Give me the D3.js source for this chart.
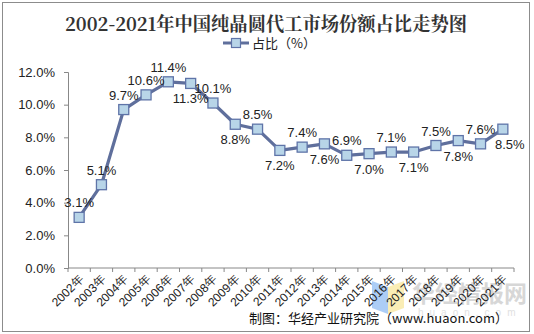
<!DOCTYPE html>
<html><head><meta charset="utf-8">
<script src="https://cdn.jsdelivr.net/npm/d3@7"></script>
<style>html,body{margin:0;padding:0;background:#fff;}svg{display:block;}</style>
</head><body>
<svg id="chart" width="534" height="334"></svg>
<script>
const years = ["2002年","2003年","2004年","2005年","2006年","2007年","2008年","2009年","2010年","2011年","2012年","2013年","2014年","2015年","2016年","2017年","2018年","2019年","2020年","2021年"];
const shares = [3.1,5.1,9.7,10.6,11.4,11.3,10.1,8.8,8.5,7.2,7.4,7.6,6.9,7.0,7.1,7.1,7.5,7.8,7.6,8.5];
const labelSide = ["up","up","up","up","up","down","up","down","up","down","up","down","up","down","up","down","up","down","up","down"];
const yTicks = [0,2,4,6,8,10,12];
const title = "2002-2021年中国纯晶圆代工市场份额占比走势图";
const seriesName = "占比（%）";
const credit = "制图：华经产业研究院（www.huaon.com）";

const svg = d3.select("#chart");
svg.append("rect").attr("x",2.5).attr("y",2.5).attr("width",527).attr("height",329)
  .attr("fill","#fff").attr("stroke","#8c8c8c").attr("stroke-width",1);

// watermark
const wm = svg.append("g").attr("opacity",0.55);
wm.append("polygon").attr("points","372,281 388,287 388,314 372,308").attr("fill","#6aa6f0");
wm.append("polygon").attr("points","388,287 404,281 404,308 388,314").attr("fill","#f7df7a");
wm.append("text").attr("x",412).attr("y",302).attr("font-family","Noto Sans CJK SC").attr("font-weight","bold")
  .attr("font-size",23).attr("fill","#b8b8b8").text("华经情报网");
wm.append("text").attr("x",418).attr("y",316).attr("font-family","Liberation Sans").attr("font-size",10)
  .attr("fill","#c8c8c8").attr("letter-spacing","6").text("huaon.com");

const x = d3.scaleBand().domain(years).range([68,514]);
const y = d3.scaleLinear().domain([0,12]).range([268,72]);

svg.append("text").attr("x",65).attr("y",31).attr("textLength",402).attr("lengthAdjust","spacingAndGlyphs")
  .attr("font-family","Noto Serif CJK SC, DejaVu Serif, Noto Sans CJK SC").attr("font-weight","bold")
  .attr("font-size",19).attr("fill","#333").text(title);

// legend
const lg = svg.append("g");
lg.append("line").attr("x1",223).attr("x2",249).attr("y1",43).attr("y2",43).attr("stroke","#5f6f9c").attr("stroke-width",3);
lg.append("rect").attr("x",231.5).attr("y",38.5).attr("width",9).attr("height",9).attr("fill","#b8d5e8").attr("stroke","#5f74a8").attr("stroke-width",1.2);
lg.append("text").attr("x",252).attr("y",48).attr("font-family","Noto Sans CJK SC").attr("font-size",13).attr("fill","#222").text(seriesName);

// y axis
const ya = svg.append("g").attr("transform","translate(68,0)")
  .call(d3.axisLeft(y).tickValues(yTicks).tickSize(4).tickPadding(9).tickFormat(d=>d3.format(".1f")(d)+"%"));
ya.select(".domain").attr("stroke","#888");
ya.selectAll(".tick line").attr("stroke","#888");
ya.selectAll("text").attr("font-family","Liberation Sans, Arial").attr("font-size",13).attr("fill","#222");

// x axis
const xa = svg.append("g").attr("transform","translate(0,268)")
  .call(d3.axisBottom(x).tickSize(0).tickFormat(d=>d));
xa.select(".domain").attr("stroke","#888").attr("d","M68,0H514");
xa.selectAll(".tick line").remove();
xa.selectAll(".tick text").attr("font-family","Liberation Sans, Arial").attr("font-size",12).attr("fill","#222")
  .attr("text-anchor","end").attr("dy",null).attr("y",0).attr("x",0)
  .attr("transform","translate(5,12) rotate(-45)");
const boundaries = years.map(d=>x(d)).concat([514]);
svg.append("g").selectAll("line").data(boundaries).join("line")
  .attr("x1",d=>d).attr("x2",d=>d).attr("y1",268).attr("y2",272).attr("stroke","#888");

// line
const pts = years.map((d,i)=>({x:x(d)+x.bandwidth()/2, y:y(shares[i]), v:shares[i], side:labelSide[i]}));
svg.append("path").datum(pts).attr("fill","none").attr("stroke","#5f6f9c").attr("stroke-width",3.2)
  .attr("stroke-linejoin","round").attr("d",d3.line().x(d=>d.x).y(d=>d.y));
svg.append("g").selectAll("rect").data(pts).join("rect")
  .attr("x",d=>d.x-5).attr("y",d=>d.y-5).attr("width",10).attr("height",10)
  .attr("fill","#b8d5e8").attr("stroke","#5f74a8").attr("stroke-width",1.3);
svg.append("g").selectAll("text").data(pts).join("text")
  .attr("x",(d,i)=> i===pts.length-1 ? d.x+7 : d.x)
  .attr("y",d=>d.side==="up"? d.y-10 : d.y+20)
  .attr("text-anchor","middle").attr("font-family","Liberation Sans, Arial").attr("font-size",13).attr("fill","#222")
  .text(d=>d3.format(".1f")(d.v)+"%");

svg.append("text").attr("x",508).attr("y",323).attr("text-anchor","end")
  .attr("font-family","Noto Sans CJK SC").attr("font-size",13).attr("fill","#111").text(credit);
</script>
</body></html>
